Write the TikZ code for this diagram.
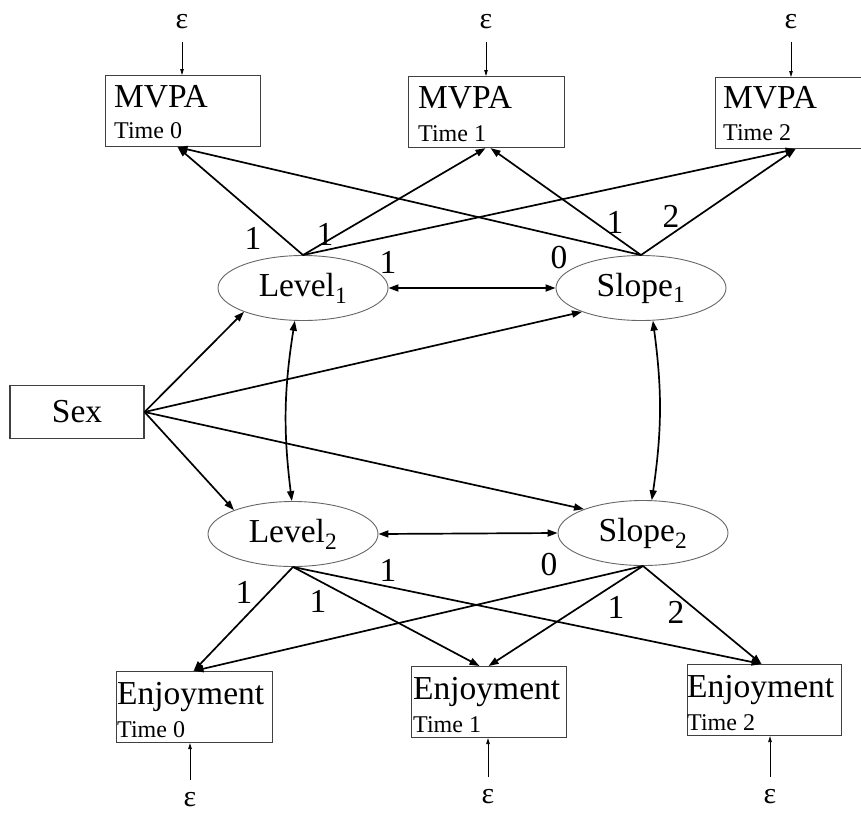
\documentclass[tikz,border=0pt]{standalone}
\usepackage{fontspec}
\setmainfont{Liberation Serif}
\usetikzlibrary{arrows.meta,shapes.geometric,calc}
\begin{document}
\begin{tikzpicture}[x=1pt,y=-1pt,
  big/.style={font=\fontsize{33.5}{36}\selectfont},
  small/.style={font=\fontsize{24}{26}\selectfont},
  obs/.style={draw=black!75,line width=1.1pt,minimum width=155pt,minimum height=71pt,inner sep=0pt},
  lat/.style={ellipse,draw=black!60,line width=0.9pt,minimum width=170pt,minimum height=65pt,inner sep=0pt,big},
  pth/.style={line width=1.7pt,-{Triangle[length=10pt,width=7pt]}},
  cov/.style={line width=1.7pt,{Triangle[length=10pt,width=7pt]}-{Triangle[length=10pt,width=7pt]}},
  err/.style={line width=0.8pt,-{Triangle[length=6pt,width=3.5pt]}},
  lab/.style={big,inner sep=0pt},
  txt/.style={inner sep=0pt,anchor=base west},
  eps/.style={font=\fontsize{30}{32}\selectfont,inner sep=0pt}
]
\path[use as bounding box] (0,0) rectangle (861,814);
\clip (0,0) rectangle (861,814);

% observed boxes
\node[obs,anchor=north west] (M0) at (105,75) {};
\node[obs,anchor=north west,minimum width=156pt] (M1) at (408,76) {};
\node[obs,anchor=north west] (M2) at (715,77) {};
\node[obs,anchor=north west,minimum width=156pt] (E0) at (116,671) {};
\node[obs,anchor=north west] (E1) at (411,666) {};
\node[obs,anchor=north west,minimum width=154pt] (E2) at (687,664) {};

\node[txt,big] (M0a) at (114,107) {MVPA};
\node[txt,small] (M0b) at (114,138) {Time 0};
\node[txt,big] (M1a) at (418,108) {MVPA};
\node[txt,small] (M1b) at (418,141) {Time 1};
\node[txt,big] (M2a) at (723,108) {MVPA};
\node[txt,small] (M2b) at (723,140) {Time 2};
\node[txt,big] (E0a) at (117,704) {Enjoyment};
\node[txt,small] (E0b) at (117,737) {Time 0};
\node[txt,big] (E1a) at (413,699) {Enjoyment};
\node[txt,small] (E1b) at (413,732) {Time 1};
\node[txt,big] (E2a) at (687,697) {Enjoyment};
\node[txt,small] (E2b) at (687,730) {Time 2};

% latent variables
\node[lat] (L1) at (303,288) {Level\textsubscript{1}};
\node[lat] (S1) at (641,288) {Slope\textsubscript{1}};
\node[lat] (L2) at (293,534) {Level\textsubscript{2}};
\node[lat] (S2) at (643,533) {Slope\textsubscript{2}};

\node[obs,minimum width=134pt,minimum height=53pt,big] (Sex) at (77,412) {Sex};

% errors
\node[eps] (e0) at (182,22) {ε};
\node[eps] (e1) at (486,22) {ε};
\node[eps] (e2) at (791,22) {ε};
\node[eps] (f0) at (190,800) {ε};
\node[eps] (f1) at (488,797) {ε};
\node[eps] (f2) at (770,797) {ε};
\draw[err,shorten <=13pt] (e0) -- (e0 |- M0.north);
\draw[err,shorten <=13pt] (e1) -- (e1 |- M1.north);
\draw[err,shorten <=13pt] (e2) -- (e2 |- M2.north);
\draw[err,shorten <=13pt] (f0) -- (f0 |- E0.south);
\draw[err,shorten <=13pt] (f1) -- (f1 |- E1.south);
\draw[err,shorten <=13pt] (f2) -- (f2 |- E2.south);

% loadings top
\draw[pth] (L1.north) -- ([xshift=-5.5pt]M0.south);
\draw[pth] (L1.north) -- ([xshift=-1pt]M1.south);
\draw[pth] (L1.north) -- ([xshift=2.5pt]M2.south);
\draw[pth] (S1.north) -- ([xshift=-5.5pt]M0.south);
\draw[pth] (S1.north) -- ([xshift=4pt]M1.south);
\draw[pth] (S1.north) -- ([xshift=2.5pt]M2.south);

% loadings bottom
\draw[pth] (L2.south) -- ([xshift=-1pt]E0.north);
\draw[pth] (L2.south) -- ([xshift=-9.5pt]E1.north);
\draw[pth] (L2.south) -- ([xshift=-3pt]E2.north);
\draw[pth] (S2.south) -- ([xshift=-1pt]E0.north);
\draw[pth] (S2.south) -- ([xshift=-0.5pt]E1.north);
\draw[pth] (S2.south) -- ([xshift=-3pt]E2.north);

% sex effects
\draw[pth] (Sex.east) -- (L1.202);
\draw[pth] (Sex.east) -- (S1.202);
\draw[pth] (Sex.east) -- (L2.158);
\draw[pth] (Sex.east) -- (S2.158);

% covariances
\draw[cov] (L1.east) -- (S1.west);
\draw[cov] (L2.east) -- (S2.west);
\draw[cov] (L1.256) to[bend right=8] (L2.92);
\draw[cov] (S1.290) to[bend left=8] (S2.75);

% loading labels
\node[lab] (a1) at (253,238) {1};
\node[lab] (a2) at (325,234) {1};
\node[lab] (a3) at (388,262) {1};
\node[lab] (a4) at (559,258) {0};
\node[lab] (a5) at (615,222) {1};
\node[lab] (a6) at (671,216) {2};
\node[lab] (b1) at (244,592) {1};
\node[lab] (b2) at (318,601) {1};
\node[lab] (b3) at (388,570) {1};
\node[lab] (b4) at (549,565) {0};
\node[lab] (b5) at (616,607) {1};
\node[lab] (b6) at (676,612) {2};
\end{tikzpicture}
\end{document}
